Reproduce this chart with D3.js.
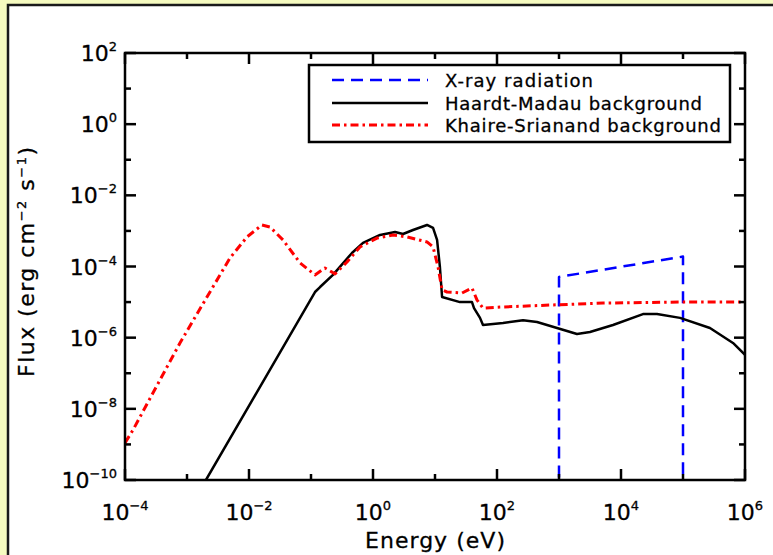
<!DOCTYPE html>
<html>
<head>
<meta charset="utf-8">
<script src="https://cdn.jsdelivr.net/npm/d3@7"></script>
<style>
  body { margin: 0; background: #f6fbc0; }
  svg { display: block; }
  text { font-family: "DejaVu Sans", sans-serif; fill: #000; stroke: #000; stroke-width: 0.3; }
</style>
</head>
<body>
<div id="root"></div>
<script>
const width = 773;
const height = 555;

// energy (eV) and flux (erg cm^-2 s^-1)
const hmEnergy = [1.6e-3, 2.02e-3, 0.116, 0.14, 0.226, 0.458, 0.69, 1.3, 2.27, 3.05, 4.42, 7.43, 9.3, 10.8, 12.0, 13.0, 25.3, 39.5, 42.6, 53.2, 59.4, 125, 263, 442, 929, 1950, 3160, 7430, 2.26e4, 3.81e4, 8.95e4, 2.72e5, 6.4e5, 1e6];
const hmFlux = [5e-11, 1e-10, 1.92e-5, 2.65e-5, 5.8e-5, 2.4e-4, 4.6e-4, 7.7e-4, 9.3e-4, 8.2e-4, 1.06e-3, 1.47e-3, 1.21e-3, 5.6e-4, 9.7e-5, 1.39e-5, 1.0e-5, 1.0e-5, 6.8e-6, 3.6e-6, 2.27e-6, 2.6e-6, 3.1e-6, 2.76e-6, 1.87e-6, 1.27e-6, 1.44e-6, 2.27e-6, 4.6e-6, 4.6e-6, 3.6e-6, 1.87e-6, 7.1e-7, 3.3e-7];

const ksEnergy = [1e-4, 1.35e-4, 3.67e-4, 7.7e-4, 2.1e-3, 4.94e-3, 9.3e-3, 1.62e-2, 2.18e-2, 3.53e-2, 6.65e-2, 0.116, 0.168, 0.244, 0.381, 0.617, 1.16, 2.1, 3.53, 7.43, 9.3, 11.2, 13.0, 15.6, 27.3, 39.5, 47.5, 59.4, 125, 800, 5130, 9e4, 1e6];
const ksFlux = [1.1e-9, 2.57e-9, 6.5e-8, 7.1e-7, 1.39e-5, 1.74e-4, 6.8e-4, 1.47e-3, 1.29e-3, 5.6e-4, 1.26e-4, 5.8e-5, 9.1e-5, 6.2e-5, 1.34e-4, 3.54e-4, 6.3e-4, 7.7e-4, 6.8e-4, 4.9e-4, 3.54e-4, 9.7e-5, 2.19e-5, 1.92e-5, 1.8e-5, 2.5e-5, 1.15e-5, 6.8e-6, 7.3e-6, 8.3e-6, 9.4e-6, 1.0e-5, 1.0e-5];

const xrayEnergy = [1e3, 1e3, 1e5, 1e5];
const xrayFlux = [1e-11, 5.1e-5, 1.9e-4, 1e-11];

const xTicks = [-4, -3, -2, -1, 0, 1, 2, 3, 4, 5, 6];
const yTicks = [2, 1, 0, -1, -2, -3, -4, -5, -6, -7, -8, -9, -10];

const series = [
  { name: "X-ray radiation", energy: xrayEnergy, flux: xrayFlux, color: "#0000ff", dash: "12,7", w: 2.5 },
  { name: "Haardt-Madau background", energy: hmEnergy, flux: hmFlux, color: "#000", dash: null, w: 2.5 },
  { name: "Khaire-Srianand background", energy: ksEnergy, flux: ksFlux, color: "#ff0000", dash: "8,4,2.5,4", w: 3 },
];

const plot = { left: 125, right: 745, top: 53, bottom: 480 };

const x = d3.scaleLog().domain([1e-4, 1e6]).range([plot.left, plot.right]);
const y = d3.scaleLog().domain([1e-10, 1e2]).range([plot.bottom, plot.top]);

const svg = d3
  .select("#root")
  .append("svg")
  .attr("width", width)
  .attr("height", height);

// white panel with dark border
svg
  .append("rect")
  .attr("x", 8)
  .attr("y", 5)
  .attr("width", width + 10)
  .attr("height", height + 10)
  .attr("fill", "#fff")
  .attr("stroke", "#1a1a1a")
  .attr("stroke-width", 2.5);

svg
  .append("clipPath")
  .attr("id", "clip")
  .append("rect")
  .attr("x", plot.left)
  .attr("y", plot.top)
  .attr("width", plot.right - plot.left)
  .attr("height", plot.bottom - plot.top);

const line = d3
  .line()
  .x((d) => x(d[0]))
  .y((d) => y(d[1]));

svg
  .append("g")
  .attr("clip-path", "url(#clip)")
  .selectAll("path")
  .data(series)
  .join("path")
  .attr("d", (s) => line(d3.zip(s.energy, s.flux)))
  .attr("fill", "none")
  .attr("stroke", (s) => s.color)
  .attr("stroke-width", (s) => s.w)
  .attr("stroke-dasharray", (s) => s.dash)
  .attr("stroke-linejoin", "round");

// frame
svg
  .append("rect")
  .attr("x", plot.left)
  .attr("y", plot.top)
  .attr("width", plot.right - plot.left)
  .attr("height", plot.bottom - plot.top)
  .attr("fill", "none")
  .attr("stroke", "#000")
  .attr("stroke-width", 2.5);

const tickLen = (p) => (p % 2 === 0 ? 11 : 6);
const ticks = svg.append("g").attr("stroke", "#000").attr("stroke-width", 2.5);

xTicks.forEach((p) => {
  const xv = x(Math.pow(10, p));
  ticks.append("line").attr("x1", xv).attr("x2", xv).attr("y1", plot.bottom).attr("y2", plot.bottom - tickLen(p));
  ticks.append("line").attr("x1", xv).attr("x2", xv).attr("y1", plot.top).attr("y2", plot.top + tickLen(p));
});
yTicks.forEach((p) => {
  const yv = y(Math.pow(10, p));
  ticks.append("line").attr("x1", plot.left).attr("x2", plot.left + tickLen(p)).attr("y1", yv).attr("y2", yv);
  ticks.append("line").attr("x1", plot.right).attr("x2", plot.right - tickLen(p)).attr("y1", yv).attr("y2", yv);
});

const expLabel = (sel, p) => {
  sel.append("tspan").text("10");
  sel
    .append("tspan")
    .attr("dy", -10)
    .attr("font-size", 13)
    .text(String(p).replace("-", "\u2212"));
};

xTicks
  .filter((p) => p % 2 === 0)
  .forEach((p) => {
    svg
      .append("text")
      .attr("x", x(Math.pow(10, p)))
      .attr("y", 520)
      .attr("text-anchor", "middle")
      .attr("font-size", 22)
      .call(expLabel, p);
  });

yTicks
  .filter((p) => p % 2 === 0)
  .forEach((p) => {
    svg
      .append("text")
      .attr("x", 117)
      .attr("y", y(Math.pow(10, p)) + 8)
      .attr("text-anchor", "end")
      .attr("font-size", 22)
      .call(expLabel, p);
  });

// axis titles
svg
  .append("text")
  .attr("x", (plot.left + plot.right) / 2)
  .attr("y", 548)
  .attr("text-anchor", "middle")
  .attr("font-size", 22)
  .attr("textLength", 140)
  .text("Energy (eV)");

const yTitle = svg
  .append("text")
  .attr("transform", "translate(34, 262) rotate(-90)")
  .attr("text-anchor", "middle")
  .attr("font-size", 22)
  .attr("textLength", 230);
yTitle.append("tspan").text("Flux (erg cm");
yTitle.append("tspan").attr("dy", -8).attr("font-size", 13).text("\u22122");
yTitle.append("tspan").attr("dy", 8).text(" s");
yTitle.append("tspan").attr("dy", -8).attr("font-size", 13).text("\u22121");
yTitle.append("tspan").attr("dy", 8).text(")");

// legend
const legend = svg.append("g");
legend
  .append("rect")
  .attr("x", 309)
  .attr("y", 65)
  .attr("width", 421)
  .attr("height", 77)
  .attr("fill", "#fff")
  .attr("stroke", "#000")
  .attr("stroke-width", 2.5);

const rowY = [80, 103, 125];
const textLen = [148, 257, 276];
series.forEach((s, i) => {
  legend
    .append("line")
    .attr("x1", 332)
    .attr("x2", 428)
    .attr("y1", rowY[i])
    .attr("y2", rowY[i])
    .attr("stroke", s.color)
    .attr("stroke-width", s.w)
    .attr("stroke-dasharray", s.dash);
  legend
    .append("text")
    .attr("x", 445)
    .attr("y", rowY[i] + 6.5)
    .attr("font-size", 18)
    .attr("textLength", textLen[i])
    .text(s.name);
});
</script>
</body>
</html>
